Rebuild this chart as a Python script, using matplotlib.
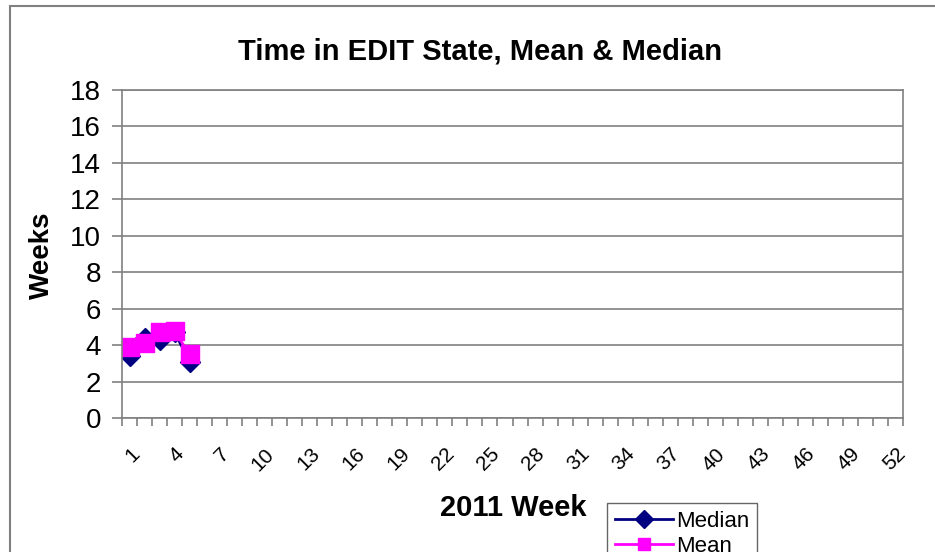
import numpy as np
import matplotlib.pyplot as plt
import matplotlib.transforms as mtransforms

plt.rcParams['font.family'] = ['Liberation Sans', 'DejaVu Sans']

# --- data ---
median_weeks = [1, 2, 3, 4, 5]
median_vals = [3.4, 4.4, 4.3, 4.7, 3.1]
mean_weeks = [1, 2, 3, 4, 5]
mean_vals = [3.9, 4.1, 4.7, 4.75, 3.5]
tick_weeks = list(range(1, 53, 3))

fig = plt.figure(figsize=(9.35, 5.52), dpi=100)
# outer chart border
fig.patches.append(plt.Rectangle((10 / 935, -0.1), 1.0, 1.09, transform=fig.transFigure,
                                 fill=False, edgecolor='#808080', linewidth=1.5))

ax = fig.add_axes([122 / 935, 1 - 418 / 552, 781 / 935, 328 / 552])

ax.plot(median_weeks, median_vals, color='#000080', marker='D', markersize=10,
        linewidth=2, label='Median')
ax.plot(mean_weeks, mean_vals, color='#FF00FF', marker='s', markersize=13,
        linewidth=2, label='Mean')

ax.set_xlim(0.5, 52.5)
ax.set_ylim(0, 18)
ax.set_yticks(range(0, 19, 2))
ax.yaxis.grid(True, color='#808080', linewidth=1.2)
ax.set_axisbelow(True)

ax.set_xticks(tick_weeks)
ax.set_xticklabels([str(w) for w in tick_weeks], rotation=45, fontsize=15,
                   ha='right', va='top', rotation_mode='anchor')
shift = mtransforms.ScaledTranslation(3 / 100, 0, fig.dpi_scale_trans)
for lbl in ax.get_xticklabels():
    lbl.set_transform(lbl.get_transform() + shift)
ax.set_xticks(np.arange(0.5, 53, 1), minor=True)
ax.tick_params(axis='x', which='major', length=0, pad=19)
ax.tick_params(axis='x', which='minor', length=6, color='#808080', width=1.2)
ax.tick_params(axis='y', length=7, color='#808080', width=1.2, labelsize=20, pad=8)

for s in ax.spines.values():
    s.set_color('#808080')
    s.set_linewidth(1.2)

fig.text(480 / 935, 1 - 52 / 552, 'Time in EDIT State, Mean & Median', fontsize=21,
         fontweight='bold', ha='center', va='center')
fig.text(513 / 935, 1 - 508 / 552, '2011 Week', fontsize=21, fontweight='bold',
         ha='center', va='center')
fig.text(42 / 935, 1 - 255 / 552, 'Weeks', fontsize=20, fontweight='bold',
         ha='center', va='center', rotation=90)

leg = fig.legend(loc='upper left', bbox_to_anchor=(607 / 935, 1 - 503 / 552),
                 fontsize=16, frameon=True, fancybox=False, edgecolor='#404040',
                 borderpad=0.35, borderaxespad=0, handlelength=2.6,
                 labelspacing=0.2, handletextpad=0.15)
leg.get_frame().set_linewidth(1.0)
for h in leg.legend_handles:
    h.set_markersize(9)

fig.savefig('out.png', dpi=100)
